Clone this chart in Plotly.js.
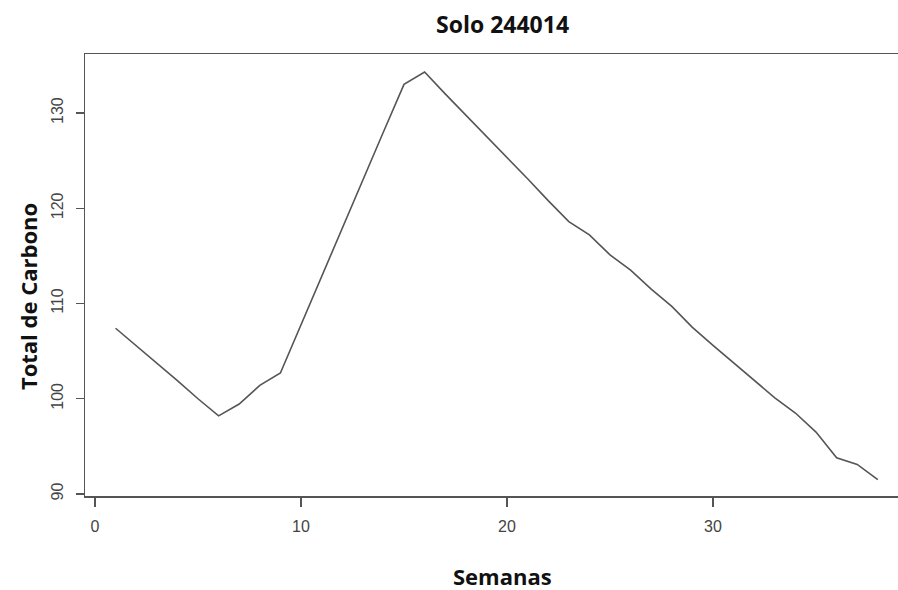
<!DOCTYPE html>
<html>
<head>
<meta charset="utf-8">
<script src="https://cdn.plot.ly/plotly-3.0.1.min.js"></script>
<style>html,body{margin:0;padding:0;background:#fff;}#chart{width:898px;height:590px;}</style>
</head>
<body>
<div id="chart"></div>
<script>
const weeks = [1,2,3,4,5,6,7,8,9,10,11,12,13,14,15,16,17,18,19,20,21,22,23,24,25,26,27,28,29,30,31,32,33,34,35,36,37,38];
const carbono = [107.4,105.6,103.7,101.9,100.0,98.2,99.45,101.4,102.7,107.8,112.9,118.0,123.0,128.0,133.0,134.3,132.0,129.8,127.6,125.3,123.1,120.8,118.6,117.2,115.1,113.5,111.5,109.7,107.5,105.6,103.8,102.0,100.1,98.5,96.5,93.8,93.1,91.5];
const xTicks = [0,10,20,30];
const yTicks = [90,100,110,120,130];
const chartTitle = 'Solo 244014';
const xTitle = 'Semanas';
const yTitle = 'Total de Carbono';

const axisColor = '#555';
const tickFont = {family: 'Liberation Sans, Arial, sans-serif', size: 16, color: '#444'};
const titleFont = {family: 'Open Sans, Noto Sans, sans-serif', size: 23, color: '#111', weight: 'bold'};

const trace = {
  x: weeks, y: carbono, type: 'scatter', mode: 'lines',
  line: {color: '#555', width: 1.6}, hoverinfo: 'skip'
};

const layout = {
  width: 898, height: 590,
  margin: {l: 85, r: 0, t: 54, b: 94},
  paper_bgcolor: '#fff', plot_bgcolor: '#fff',
  showlegend: false,
  xaxis: {
    range: [-0.485, 38.98], tickvals: xTicks, ticktext: xTicks.map(String),
    showgrid: false, zeroline: false,
    showline: true, mirror: true, linecolor: axisColor, linewidth: 1.5,
    ticks: 'outside', ticklen: 9, tickwidth: 1.3, tickcolor: axisColor,
    tickfont: tickFont, ticklabelstandoff: 6
  },
  yaxis: {
    range: [89.79, 136.19], tickvals: yTicks, ticktext: yTicks.map(String),
    showgrid: false, zeroline: false,
    showline: true, linecolor: axisColor, linewidth: 1.5,
    ticks: 'outside', ticklen: 8, tickwidth: 1.3, tickcolor: axisColor,
    tickfont: tickFont, tickangle: -90, ticklabelstandoff: 6
  },
  annotations: [
    {text: '<b>' + chartTitle + '</b>', xref: 'paper', yref: 'paper', x: 0.514, y: 1, yshift: 30,
     showarrow: false, font: titleFont, xanchor: 'center', yanchor: 'middle'},
    {text: '<b>' + xTitle + '</b>', xref: 'paper', yref: 'paper', x: 0.514, y: 0, yshift: -80,
     showarrow: false, font: {family: titleFont.family, size: 22, color: '#111'}, xanchor: 'center', yanchor: 'middle'},
    {text: '<b>' + yTitle + '</b>', xref: 'paper', yref: 'paper', x: 0, xshift: -57, y: 0.45,
     textangle: -90, showarrow: false, font: {family: titleFont.family, size: 22, color: '#111'}, xanchor: 'center', yanchor: 'middle'}
  ]
};

Plotly.newPlot('chart', [trace], layout, {staticPlot: true, displayModeBar: false});
</script>
</body>
</html>
